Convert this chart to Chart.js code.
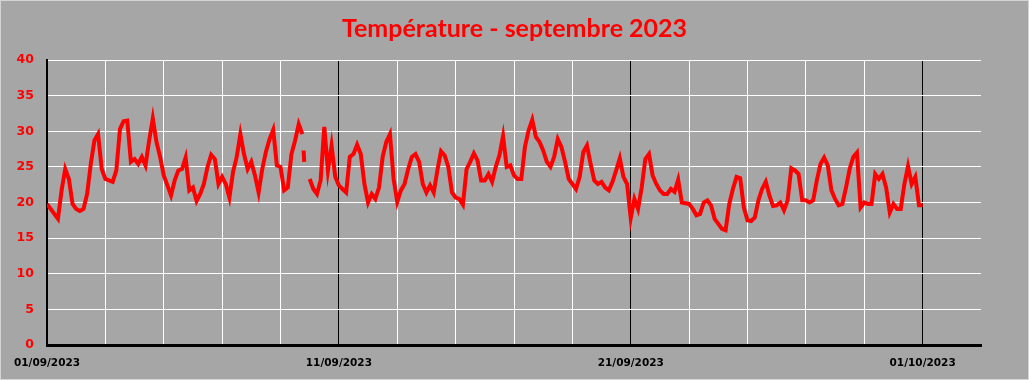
<!DOCTYPE html>
<html>
<head>
<meta charset="utf-8">
<script src="https://cdn.jsdelivr.net/npm/chart.js@4"></script>
<style>
  html, body { margin: 0; padding: 0; background: #a6a6a6; }
  #frame { width: 1029px; height: 380px; box-sizing: border-box; border: 1px solid #d4d4d4; background: #a6a6a6; }
  canvas { display: block; }
</style>
</head>
<body>
<div id="frame"><canvas id="tempChart" width="1027" height="378"></canvas></div>
<script>
// 3-hourly readings from 01/09/2023 00:00 (null = missing)
const stepHours = 3;
const temperatures = [
    19.8, 19.1, 18.4, 17.7, 21.7, 24.7, 23.3, 19.8,
    19.1, 18.8, 19.1, 21.2, 25.4, 28.7, 29.6, 24.7,
    23.3, 23.1, 22.9, 24.5, 30.3, 31.4, 31.5, 25.7,
    26.1, 25.4, 26.4, 25.2, 28.7, 31.8, 28.5, 26.4,
    23.8, 22.4, 21.0, 23.1, 24.5, 24.7, 26.3, 21.7,
    22.1, 20.2, 21.2, 22.6, 25.0, 26.7, 26.1, 22.6,
    23.6, 22.6, 20.7, 24.3, 26.4, 29.6, 26.8, 24.7,
    25.7, 23.8, 21.4, 24.7, 27.1, 28.9, 30.2, 25.2,
    25.0, 21.7, 22.1, 26.8, 28.7, 31.0, 29.6, null,
    23.3, 21.9, 21.2, 23.1, 30.6, 24.5, 28.0, 23.6,
    22.4, 21.9, 21.4, 26.4, 26.8, 28.1, 26.8, 22.6,
    20.0, 21.2, 20.5, 22.1, 26.4, 28.5, 29.6, 23.3,
    20.1, 21.7, 22.6, 24.7, 26.4, 26.8, 25.7, 22.6,
    21.4, 22.4, 21.4, 24.5, 27.2, 26.6, 25.0, 21.4,
    20.7, 20.5, 19.7, 24.7, 25.7, 26.9, 25.9, 23.1,
    23.1, 24.0, 22.9, 25.0, 26.6, 29.3, 25.0, 25.2,
    23.8, 23.3, 23.3, 27.8, 30.1, 31.6, 29.2, 28.5,
    27.3, 25.7, 25.0, 26.4, 28.9, 27.8, 25.7, 23.3,
    22.6, 21.9, 23.6, 27.1, 28.0, 25.4, 23.1, 22.6,
    22.9, 22.1, 21.7, 22.9, 24.5, 26.2, 23.6, 22.6,
    17.8, 20.5, 19.1, 22.1, 26.1, 26.8, 23.8, 22.6,
    21.7, 21.2, 21.2, 21.9, 21.5, 23.2, 20.0, 19.9,
    19.8, 19.1, 18.2, 18.4, 20.0, 20.3, 19.6, 17.7,
    17.0, 16.3, 16.1, 19.8, 21.9, 23.6, 23.4, 19.3,
    17.5, 17.4, 17.9, 20.3, 21.9, 22.9, 21.0, 19.5,
    19.6, 20.0, 18.9, 20.3, 24.8, 24.5, 24.0, 20.3,
    20.3, 20.0, 20.3, 23.1, 25.4, 26.3, 25.2, 21.7,
    20.5, 19.6, 19.8, 22.1, 24.7, 26.4, 27.0, 19.3,
    20.0, 19.8, 19.8, 24.0, 23.3, 24.0, 22.1, 18.6,
    19.8, 19.1, 19.1, 22.6, 25.1, 22.6, 23.6, 19.6,
    19.6
];
// short isolated reading around 09/09 04:00
const fragmentHours = [211, 211.5];
const fragmentTemps = [27.3, 25.7];

const yTicks = [0, 5, 10, 15, 20, 25, 30, 35, 40];
const dayHours = 24;
const labelEveryDays = 10;
const gridEveryDays = 2;
const totalDays = 32;

const mainPoints = temperatures.map((t, i) => ({ x: i * stepHours, y: t }));
const fragPoints = fragmentHours.map((h, i) => ({ x: h, y: fragmentTemps[i] }));

function fmtDate(hours) {
    const d = new Date(2023, 8, 1 + Math.round(hours / dayHours));
    const dd = String(d.getDate()).padStart(2, '0');
    const mm = String(d.getMonth() + 1).padStart(2, '0');
    return dd + '/' + mm + '/' + d.getFullYear();
}

const lineStyle = {
    borderColor: '#ff0000',
    borderWidth: 4,
    pointRadius: 0,
    tension: 0,
    spanGaps: false,
    fill: false
};

new Chart(document.getElementById('tempChart'), {
    type: 'line',
    data: {
        datasets: [
            Object.assign({ label: 'Température', data: mainPoints }, lineStyle),
            Object.assign({ label: 'Température (fragment)', data: fragPoints }, lineStyle)
        ]
    },
    options: {
        responsive: false,
        animation: false,
        layout: { padding: 0 },
        plugins: {
            legend: { display: false },
            tooltip: { enabled: false },
            title: {
                display: true,
                text: 'Température - septembre 2023',
                color: '#ff0000',
                font: { family: 'Lato', size: 25, weight: 'bold' },
                padding: { top: 13, bottom: 16 }
            }
        },
        scales: {
            x: {
                type: 'linear',
                min: 0,
                max: totalDays * dayHours,
                afterFit: (scale) => { scale.height = 34; },
                afterBuildTicks: (scale) => {
                    const ticks = [];
                    for (let v = 0; v <= totalDays * dayHours; v += gridEveryDays * dayHours) ticks.push({ value: v });
                    scale.ticks = ticks;
                },
                ticks: {
                    autoSkip: false,
                    maxRotation: 0,
                    padding: 12,
                    color: '#000000',
                    font: { family: 'DejaVu Sans', size: 10.5, weight: 'bold' },
                    callback: (v) => (v % (labelEveryDays * dayHours) === 0 && v < totalDays * dayHours) ? fmtDate(v) : ''
                },
                grid: {
                    drawTicks: false,
                    lineWidth: 1,
                    color: (ctx) => {
                        const v = ctx.tick ? ctx.tick.value : 0;
                        if (v >= totalDays * dayHours) return 'rgba(0,0,0,0)';
                        return v % (labelEveryDays * dayHours) === 0 ? '#000000' : '#ffffff';
                    }
                },
                border: { display: true, color: '#000000', width: 3 }
            },
            y: {
                min: 0,
                max: 40,
                afterFit: (scale) => { scale.width = 46; },
                afterBuildTicks: (scale) => { scale.ticks = yTicks.map(v => ({ value: v })); },
                ticks: {
                    padding: 13,
                    color: '#ff0000',
                    font: { family: 'DejaVu Sans', size: 12.5, weight: 'bold' }
                },
                grid: {
                    drawTicks: false,
                    lineWidth: 1,
                    color: '#ffffff'
                },
                border: { display: true, color: '#000000', width: 2 }
            },
            // empty right margin so the title stays centred on the whole canvas
            spacer: {
                type: 'linear',
                position: 'right',
                display: true,
                min: 0,
                max: 40,
                afterFit: (scale) => { scale.width = 47; },
                ticks: { display: false },
                grid: { display: false, drawTicks: false },
                border: { display: false }
            }
        }
    }
});
</script>
</body>
</html>
